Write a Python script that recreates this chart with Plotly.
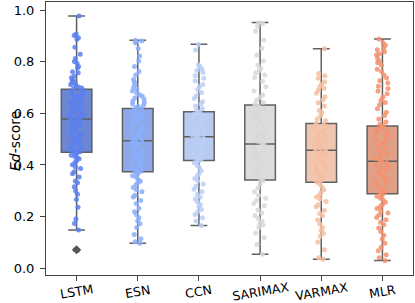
import plotly.graph_objects as go

categories = ["LSTM", "ESN", "CCN", "SARIMAX", "VARMAX", "MLR"]

# box statistics
q1 = [0.449, 0.374, 0.417, 0.342, 0.333, 0.289]
median = [0.578, 0.494, 0.509, 0.481, 0.457, 0.414]
q3 = [0.693, 0.619, 0.606, 0.632, 0.561, 0.551]
lower = [0.148, 0.097, 0.166, 0.054, 0.035, 0.030]
upper = [0.977, 0.883, 0.867, 0.952, 0.850, 0.888]
lstm_outliers = [0.072]

lstm_pts = [0.977, 0.907, 0.901, 0.893, 0.887, 0.856, 0.829, 0.812, 0.801, 0.794, 0.781, 0.776,
            0.761, 0.757, 0.744, 0.738, 0.729, 0.726, 0.719, 0.714, 0.711, 0.706, 0.702, 0.698,
            0.694, 0.690, 0.687, 0.679, 0.676, 0.668, 0.666, 0.659, 0.655, 0.651, 0.646, 0.640,
            0.638, 0.631, 0.626, 0.621, 0.618, 0.611, 0.606, 0.603, 0.596, 0.591, 0.589, 0.583,
            0.580, 0.578, 0.574, 0.571, 0.563, 0.561, 0.553, 0.549, 0.541, 0.537, 0.531, 0.522,
            0.519, 0.513, 0.504, 0.501, 0.493, 0.487, 0.484, 0.475, 0.472, 0.464, 0.461, 0.455,
            0.452, 0.450, 0.447, 0.443, 0.438, 0.433, 0.427, 0.424, 0.416, 0.409, 0.401, 0.393,
            0.386, 0.374, 0.366, 0.353, 0.338, 0.331, 0.316, 0.299, 0.287, 0.266, 0.236, 0.191,
            0.173, 0.148, 0.072, 0.070]
esn_pts = [0.883, 0.880, 0.877, 0.873, 0.851, 0.822, 0.803, 0.781, 0.762, 0.748, 0.731, 0.721,
           0.713, 0.702, 0.694, 0.686, 0.678, 0.672, 0.666, 0.659, 0.654, 0.648, 0.642, 0.636,
           0.631, 0.626, 0.622, 0.617, 0.612, 0.606, 0.601, 0.596, 0.591, 0.585, 0.579, 0.572,
           0.566, 0.561, 0.553, 0.547, 0.541, 0.534, 0.528, 0.522, 0.516, 0.509, 0.503, 0.497,
           0.494, 0.489, 0.484, 0.478, 0.471, 0.466, 0.459, 0.452, 0.447, 0.440, 0.433, 0.427,
           0.421, 0.414, 0.408, 0.401, 0.396, 0.390, 0.384, 0.379, 0.376, 0.371, 0.366, 0.358,
           0.352, 0.343, 0.337, 0.331, 0.322, 0.313, 0.304, 0.296, 0.283, 0.276, 0.262, 0.251,
           0.232, 0.219, 0.207, 0.196, 0.183, 0.172, 0.158, 0.131, 0.114, 0.103, 0.097]
ccn_pts = [0.866, 0.845, 0.788, 0.781, 0.772, 0.766, 0.758, 0.745, 0.736, 0.725, 0.712, 0.703,
           0.692, 0.681, 0.668, 0.657, 0.645, 0.636, 0.628, 0.619, 0.611, 0.605, 0.601, 0.596,
           0.589, 0.584, 0.579, 0.572, 0.566, 0.561, 0.556, 0.549, 0.544, 0.538, 0.532, 0.527,
           0.522, 0.516, 0.511, 0.508, 0.503, 0.498, 0.493, 0.487, 0.481, 0.476, 0.470, 0.464,
           0.458, 0.452, 0.447, 0.441, 0.436, 0.430, 0.425, 0.419, 0.416, 0.409, 0.398, 0.389,
           0.378, 0.366, 0.357, 0.348, 0.339, 0.326, 0.318, 0.306, 0.297, 0.286, 0.276, 0.268,
           0.258, 0.247, 0.239, 0.228, 0.219, 0.208, 0.196, 0.183, 0.166]
sarimax_pts = [0.952, 0.948, 0.936, 0.918, 0.884, 0.852, 0.826, 0.803, 0.786, 0.774, 0.766,
               0.757, 0.748, 0.739, 0.724, 0.703, 0.686, 0.671, 0.662, 0.651, 0.643, 0.636,
               0.628, 0.617, 0.604, 0.592, 0.581, 0.569, 0.556, 0.545, 0.532, 0.521, 0.511,
               0.501, 0.492, 0.484, 0.477, 0.466, 0.455, 0.444, 0.431, 0.418, 0.406, 0.393,
               0.381, 0.368, 0.356, 0.345, 0.338, 0.326, 0.311, 0.296, 0.283, 0.271, 0.262,
               0.251, 0.242, 0.226, 0.214, 0.204, 0.193, 0.182, 0.173, 0.168, 0.158, 0.137,
               0.118, 0.092, 0.054]
varmax_pts = [0.850, 0.754, 0.745, 0.736, 0.722, 0.713, 0.704, 0.697, 0.689, 0.678, 0.664,
              0.653, 0.641, 0.628, 0.611, 0.603, 0.591, 0.578, 0.571, 0.562, 0.556, 0.549,
              0.541, 0.533, 0.526, 0.518, 0.511, 0.503, 0.497, 0.489, 0.482, 0.476, 0.469,
              0.463, 0.458, 0.453, 0.447, 0.441, 0.434, 0.426, 0.419, 0.411, 0.403, 0.396,
              0.388, 0.381, 0.373, 0.366, 0.358, 0.349, 0.341, 0.334, 0.326, 0.316, 0.304,
              0.293, 0.284, 0.276, 0.268, 0.259, 0.246, 0.238, 0.224, 0.212, 0.203, 0.187,
              0.171, 0.158, 0.147, 0.136, 0.124, 0.102, 0.072, 0.041, 0.035]
mlr_pts = [0.888, 0.872, 0.864, 0.852, 0.846, 0.838, 0.831, 0.826, 0.812, 0.803, 0.796,
           0.786, 0.771, 0.762, 0.748, 0.737, 0.726, 0.717, 0.705, 0.696, 0.686, 0.676,
           0.663, 0.651, 0.642, 0.633, 0.618, 0.604, 0.592, 0.578, 0.566, 0.558, 0.551,
           0.546, 0.539, 0.531, 0.524, 0.516, 0.508, 0.499, 0.491, 0.483, 0.474, 0.466,
           0.457, 0.449, 0.441, 0.433, 0.426, 0.418, 0.414, 0.409, 0.401, 0.393, 0.386,
           0.378, 0.371, 0.363, 0.354, 0.346, 0.338, 0.331, 0.322, 0.314, 0.306, 0.298,
           0.291, 0.286, 0.279, 0.271, 0.264, 0.256, 0.247, 0.238, 0.231, 0.222, 0.214,
           0.206, 0.197, 0.188, 0.178, 0.169, 0.156, 0.142, 0.128, 0.113, 0.097, 0.081,
           0.068, 0.052, 0.041, 0.030]

points = [lstm_pts, esn_pts, ccn_pts, sarimax_pts, varmax_pts, mlr_pts]

box_fill = ["rgb(108,134,212)", "rgb(143,169,232)", "rgb(185,203,240)",
            "rgb(220,220,220)", "rgb(240,198,176)", "rgb(224,160,136)"]
pt_color = ["rgb(90,128,240)", "rgb(138,174,252)", "rgb(186,207,247)",
            "rgb(216,216,216)", "rgb(245,190,160)", "rgb(244,145,110)"]

FONT = "DejaVu Sans"
fig = go.Figure()

for i, cat in enumerate(categories):
    fig.add_trace(go.Box(
        x=[cat], q1=[q1[i]], median=[median[i]], q3=[q3[i]],
        lowerfence=[lower[i]], upperfence=[upper[i]],
        fillcolor=box_fill[i], line=dict(color="#606060", width=1.5),
        width=0.5, whiskerwidth=0.55, boxpoints=False, showlegend=False,
        hoverinfo="skip"))

for i, cat in enumerate(categories):
    fig.add_trace(go.Box(
        x=[cat] * len(points[i]), y=points[i],
        boxpoints="all", jitter=0.45, pointpos=0, width=0.5,
        fillcolor="rgba(0,0,0,0)", line=dict(color="rgba(0,0,0,0)", width=0),
        marker=dict(color=pt_color[i], size=5, opacity=0.85),
        showlegend=False))

fig.add_trace(go.Scatter(
    x=["LSTM"] * len(lstm_outliers), y=lstm_outliers, mode="markers",
    marker=dict(symbol="diamond", color="#555555", size=7),
    showlegend=False))

for cat in categories:
    fig.add_annotation(x=cat, y=0, xref="x", yref="paper", text=cat,
                       showarrow=False, textangle=-10, yanchor="middle",
                       xanchor="center", yshift=-16,
                       font=dict(family=FONT, size=12.5, color="black"))

fig.add_annotation(x=-0.085, y=0.49, xref="paper", yref="paper",
                   text="<i>Ed</i>-score", showarrow=False, textangle=-90,
                   xanchor="center", yanchor="middle",
                   font=dict(family=FONT, size=14, color="black"))

fig.update_layout(
    width=415, height=303,
    margin=dict(l=46, r=2, t=2, b=28),
    paper_bgcolor="white", plot_bgcolor="white",
    boxmode="overlay",
    font=dict(family=FONT, size=13, color="black"),
    xaxis=dict(type="category", categoryorder="array", categoryarray=categories,
               range=[-0.5, 5.5], showticklabels=False, ticks="outside",
               ticklen=5, tickcolor="#444", showline=True, mirror=True,
               linecolor="#444", linewidth=1, showgrid=False, zeroline=False),
    yaxis=dict(range=[-0.026, 1.031], dtick=0.2, tick0=0, tickformat=".1f",
               ticks="outside", ticklen=5, tickcolor="#444",
               ticklabelstandoff=3, showline=True, mirror=True,
               linecolor="#444", linewidth=1, showgrid=False, zeroline=False,
               tickfont=dict(family=FONT, size=13, color="black")),
)

fig.write_html("out.html", config={"displayModeBar": False},
               post_script="document.body.style.margin='0';document.body.style.overflow='hidden';")
